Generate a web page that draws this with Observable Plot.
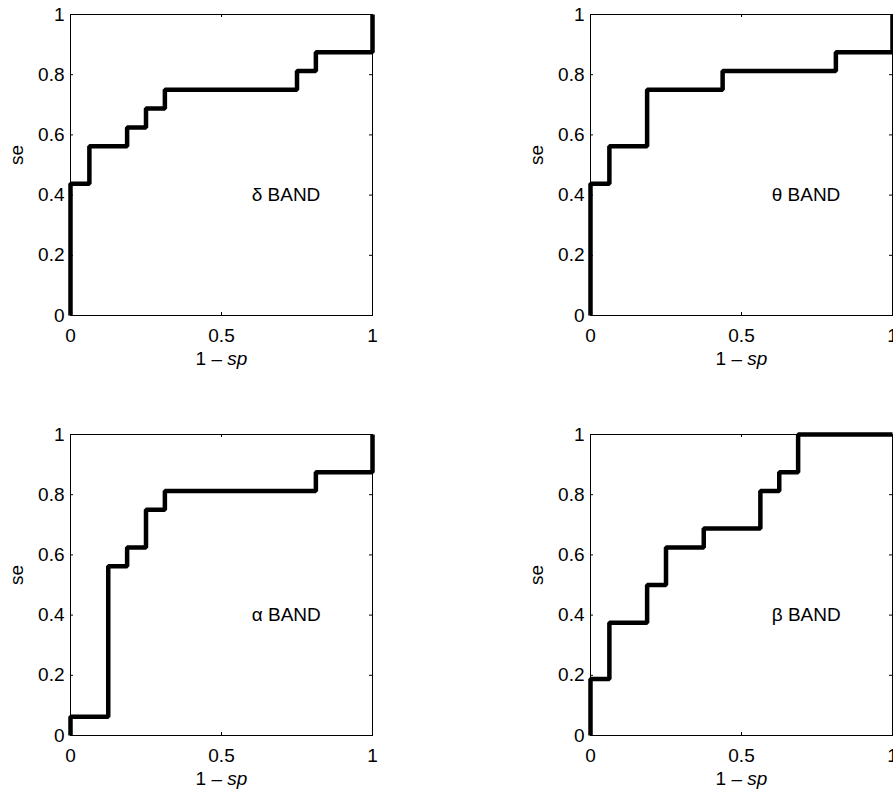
<!DOCTYPE html>
<html>
<head>
<meta charset="utf-8">
<script src="https://cdn.jsdelivr.net/npm/d3@7"></script>
<script src="https://cdn.jsdelivr.net/npm/@observablehq/plot@0.6"></script>
<style>
  html, body { margin: 0; padding: 0; background: white; overflow: hidden; }
  #chart { position: relative; width: 893px; height: 792px; overflow: hidden; background: white; }
  #chart svg { position: absolute; }
</style>
</head>
<body>
<div id="chart"></div>
<script>
// Tick values
const xTicks = [0, 0.5, 1];
const yTicks = [0, 0.2, 0.4, 0.6, 0.8, 1];
const xLabel = "1 – sp";
const yLabel = "se";

// ROC step points (1 - sp, se), step-after
const deltaX = [0, 0, 0.0625, 0.1875, 0.25, 0.3125, 0.75, 0.8125, 1];
const deltaY = [0, 0.4375, 0.5625, 0.625, 0.6875, 0.75, 0.8125, 0.875, 1];

const thetaX = [0, 0, 0.0625, 0.1875, 0.4375, 0.8125, 1];
const thetaY = [0, 0.4375, 0.5625, 0.75, 0.8125, 0.875, 1];

const alphaX = [0, 0, 0.125, 0.1875, 0.25, 0.3125, 0.8125, 1];
const alphaY = [0, 0.0625, 0.5625, 0.625, 0.75, 0.8125, 0.875, 1];

const betaX = [0, 0, 0.0625, 0.1875, 0.25, 0.375, 0.5625, 0.625, 0.6875, 1];
const betaY = [0, 0.1875, 0.375, 0.5, 0.625, 0.6875, 0.8125, 0.875, 1, 1];

const bandLabels = ["δ BAND", "θ BAND", "α BAND", "β BAND"];

const panels = [
  {xs: deltaX, ys: deltaY, label: bandLabels[0], left: 0,   top: 0,   w: 446, ml: 70,  mr: 74, mt: 14, mb: 81},
  {xs: thetaX, ys: thetaY, label: bandLabels[1], left: 446, top: 0,   w: 447, ml: 144, mr: 1,  mt: 14, mb: 81},
  {xs: alphaX, ys: alphaY, label: bandLabels[2], left: 0,   top: 396, w: 446, ml: 70,  mr: 74, mt: 38, mb: 57},
  {xs: betaX,  ys: betaY,  label: bandLabels[3], left: 446, top: 396, w: 447, ml: 144, mr: 1,  mt: 38, mb: 57}
];

const H = 396;
const FS = 19;
const font = "'Liberation Sans', Arial, Helvetica, sans-serif";
const container = document.getElementById("chart");

for (const p of panels) {
  const data = p.xs.map((x, i) => ({x, y: p.ys[i]}));
  const innerW = p.w - p.ml - p.mr;
  const innerH = H - p.mt - p.mb;
  const svg = Plot.plot({
    width: p.w,
    height: H,
    marginLeft: p.ml,
    marginRight: p.mr,
    marginTop: p.mt,
    marginBottom: p.mb,
    style: {fontSize: FS + "px", fontFamily: font, color: "black", background: "white", overflow: "visible"},
    x: {domain: [0, 1]},
    y: {domain: [0, 1]},
    marks: [
      Plot.frame({stroke: "black", strokeWidth: 1}),
      Plot.tickX(xTicks, {x: d => d, insetTop: innerH - 3, stroke: "black", strokeWidth: 1}),
      Plot.tickX(xTicks, {x: d => d, insetBottom: innerH - 3, stroke: "black", strokeWidth: 1}),
      Plot.tickY(yTicks, {y: d => d, insetRight: innerW - 3, stroke: "black", strokeWidth: 1}),
      Plot.tickY(yTicks, {y: d => d, insetLeft: innerW - 3, stroke: "black", strokeWidth: 1}),
      Plot.axisX(xTicks, {tickSize: 0, tickPadding: 13, label: null, tickFormat: d => String(d), fontSize: FS}),
      Plot.axisY(yTicks, {tickSize: 0, tickPadding: 6, label: null, tickFormat: d => String(d), fontSize: FS}),
      Plot.line(data, {x: "x", y: "y", curve: "step-after", stroke: "black", strokeWidth: 4.5, strokeLinejoin: "miter", strokeLinecap: "butt"}),
      Plot.text([p.label], {x: () => 0.6, y: () => 0.4, text: d => d, textAnchor: "start", fontSize: FS, fill: "black"}),
      Plot.text([xLabel], {frameAnchor: "bottom", lineAnchor: "middle", dy: 43, text: d => d, fontSize: FS, fill: "black"}),
      Plot.text([yLabel], {frameAnchor: "left", lineAnchor: "middle", dx: -54, rotate: -90, text: d => d, fontSize: FS, fill: "black"})
    ]
  });
  svg.style.left = p.left + "px";
  svg.style.top = p.top + "px";
  // italicise "sp" in the x label
  d3.select(svg).selectAll("text").filter(function() { return this.textContent === xLabel; })
    .each(function() {
      const t = d3.select(this);
      t.text(null);
      t.append("tspan").text("1 – ");
      t.append("tspan").attr("font-style", "italic").text("sp");
    });
  container.appendChild(svg);
}
</script>
</body>
</html>
